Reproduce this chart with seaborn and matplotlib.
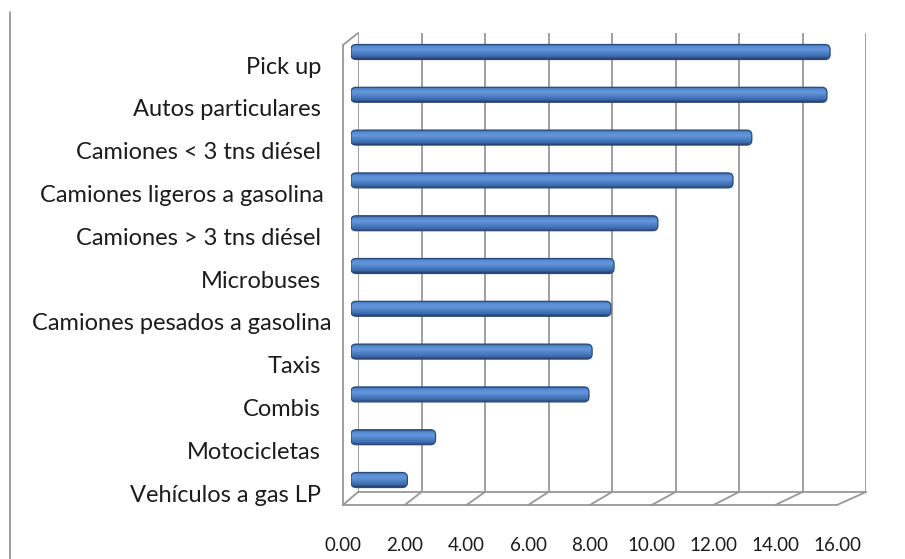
import numpy as np
import pandas as pd
import matplotlib
matplotlib.use("Agg")
import matplotlib.pyplot as plt
import seaborn as sns
from matplotlib.patches import FancyBboxPatch
from matplotlib.colors import LinearSegmentedColormap
from matplotlib.transforms import ScaledTranslation
from matplotlib.lines import Line2D

# --- data ---------------------------------------------------------------
categories = [
    "Pick up",
    "Autos particulares",
    "Camiones < 3 tns diésel",
    "Camiones ligeros a gasolina",
    "Camiones > 3 tns diésel",
    "Microbuses",
    "Camiones pesados a gasolina",
    "Taxis",
    "Combis",
    "Motocicletas",
    "Vehículos a gas LP",
]
values = [15.3, 15.2, 12.8, 12.2, 9.8, 8.4, 8.3, 7.7, 7.6, 2.7, 1.8]
x_ticks = [0, 2, 4, 6, 8, 10, 12, 14, 16]
x_tick_labels = ["0.00", "2.00", "4.00", "6.00", "8.00", "10.00", "12.00", "14.00", "16.00"]

df = pd.DataFrame({"categoria": categories, "valor": values})

# --- style --------------------------------------------------------------
sns.set_theme(style="white")
plt.rcParams["font.family"] = ["Lato", "DejaVu Sans"]

W, H = 905, 559
DPI = 100
GRID = "#979797"
TEXT = "#1c1c1c"
XMAX = 16

fig = plt.figure(figsize=(W / DPI, H / DPI), dpi=DPI)
fig.patch.set_facecolor("white")


def px_rect(x0, x1, ytop, ybot):
    return [x0 / W, 1 - ybot / H, (x1 - x0) / W, (ybot - ytop) / H]


# back wall of the pseudo-3D box
ax_back = fig.add_axes(px_rect(358, 866, 33, 492))
ax_back.set_xlim(0, XMAX)
ax_back.set_ylim(0, 1)
ax_back.vlines(x_ticks, 0, 1, color=GRID, lw=1.3)
ax_back.axis("off")

# front plane: floor edge and value axis labels
ax_front = fig.add_axes(px_rect(343, 837, 45, 505))
ax_front.set_xlim(0, XMAX)
ax_front.set_ylim(0, 1)
ax_front.patch.set_alpha(0)
for s in ax_front.spines.values():
    s.set_visible(False)
ax_front.set_yticks([])
ax_front.set_xticks(x_ticks)
ax_front.set_xticklabels(x_tick_labels)
ax_front.tick_params(axis="x", length=0, pad=23, labelsize=13.5, labelcolor=TEXT)

# bars sit half way into the box depth
ax_bars = fig.add_axes(px_rect(351, 852, 30.6, 501.4))
ax_bars.patch.set_alpha(0)
sns.barplot(data=df, x="valor", y="categoria", orient="h", ax=ax_bars,
            color="#4F81BD", width=0.35)
ax_bars.set_xlim(0, XMAX)
ax_bars.set_ylim(len(categories) - 0.5, -0.5)
ax_bars.axis("off")

# cylinder-like shading with rounded ends for each bar
shade = LinearSegmentedColormap.from_list(
    "barshade",
    [(0.0, "#30548a"), (0.12, "#5289d2"), (0.35, "#6597dc"),
     (0.6, "#4d80c6"), (0.85, "#3c68a8"), (1.0, "#223d68")],
)
grad = np.linspace(0, 1, 64).reshape(-1, 1)
x_per_px = XMAX / (852 - 351)
y_per_px = len(categories) / (501.4 - 30.6)
aspect = y_per_px / x_per_px
radius = 5 * x_per_px
for bar in list(ax_bars.patches):
    x0, y0 = bar.get_x(), bar.get_y()
    w, h = bar.get_width(), bar.get_height()
    bar.set_visible(False)
    box = FancyBboxPatch((x0, y0), w, h,
                         boxstyle=f"round,pad=0,rounding_size={radius}",
                         mutation_aspect=aspect, fc="none",
                         ec="#2a4a7a", lw=0.9, zorder=4)
    ax_bars.add_patch(box)
    img = ax_bars.imshow(grad, cmap=shade, aspect="auto", origin="upper",
                         extent=(x0, x0 + w, y0 + h, y0), zorder=3,
                         interpolation="bilinear")
    img.set_clip_path(box)
ax_bars.set_xlim(0, XMAX)
ax_bars.set_ylim(len(categories) - 0.5, -0.5)

# category labels, placed on the front plane below each bar
label_right = (321 - 351) / DPI
label_mid = (182 - 351) / DPI
for i, name in enumerate(categories):
    long_name = len(name) > 24
    off = ScaledTranslation(label_mid if long_name else label_right, -15 / DPI,
                            fig.dpi_scale_trans)
    ax_bars.text(0, i, name, transform=ax_bars.get_yaxis_transform() + off,
                 ha="center" if long_name else "right", va="center",
                 fontsize=17, color=TEXT)

# box outline: floor, left wall edge
to_fig = fig.transFigure.inverted()


def front_pt(v, y=0.0):
    return to_fig.transform(ax_front.transData.transform((v, y)))


def back_pt(v, y=0.0):
    return to_fig.transform(ax_back.transData.transform((v, y)))


segments = []
segments.append((front_pt(0), front_pt(XMAX)))
segments.append((back_pt(0), back_pt(XMAX)))
for v in x_ticks:
    segments.append((front_pt(v), back_pt(v)))
segments.append((front_pt(0), front_pt(0, 1)))
segments.append((front_pt(0, 1), back_pt(0, 1)))
for a, b in segments:
    fig.add_artist(Line2D([a[0], b[0]], [a[1], b[1]], color=GRID, lw=1.3,
                          transform=fig.transFigure))

# thin frame line on the far left
fig.add_artist(Line2D([10 / W, 10 / W], [0, 1 - 12 / H], color="#8f8f8f",
                      lw=1.2, transform=fig.transFigure))

fig.savefig("out.png", dpi=DPI, facecolor="white")
